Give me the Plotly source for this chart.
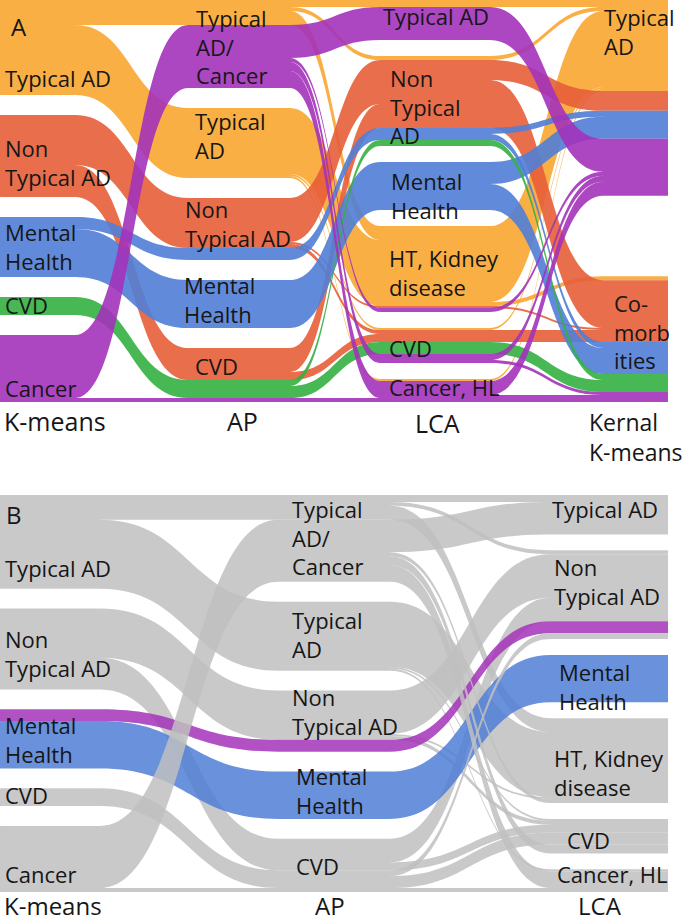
import plotly.graph_objects as go

FIG_W, FIG_H = 685, 921

# cluster names on each axis (top to bottom)
km_clusters = ["Typical AD", "Non Typical AD", "Mental Health", "CVD", "Cancer"]
ap_clusters = ["Typical AD/Cancer", "Typical AD", "Non Typical AD", "Mental Health", "CVD"]
lca_clusters = ["Typical AD", "Non Typical AD", "Mental Health", "HT, Kidney disease", "CVD", "Cancer, HL"]
kk_clusters = ["Typical AD", "Co-morbidities"]

# patient paths through the four clusterings (indices into the lists above) and their size
path_km = [0, 0, 0, 0, 0, 0, 0,
           1, 1, 1, 1, 1, 1, 1,
           2, 2, 2, 2,
           3, 3,
           4, 4, 4, 4, 4, 4, 4]
path_ap = [0, 0, 0, 1, 1, 1, 1,
           2, 2, 2, 2, 4, 4, 4,
           2, 2, 3, 3,
           4, 4,
           0, 0, 0, 0, 0, 0, 4]
path_lca = [0, 3, 1, 3, 3, 4, 5,
            1, 1, 4, 3, 1, 1, 4,
            1, 1, 2, 2,
            1, 4,
            0, 3, 4, 4, 5, 5, 5]
path_kk = [0, 0, 0, 0, 1, 0, 0,
           1, 0, 1, 1, 1, 0, 1,
           0, 1, 0, 1,
           1, 1,
           0, 0, 0, 1, 0, 1, 1]
path_n = [7, 14, 4, 62, 4, 2, 2,
          30, 14, 4, 2, 18, 6, 8,
          6, 6, 22, 26,
          6, 12,
          33, 4, 6, 3, 14, 3, 4]

COLORS = {
    "orange": (248, 166, 48),
    "red": (230, 94, 56),
    "blue": (80, 126, 214),
    "green": (52, 176, 66),
    "purple": (163, 50, 186),
    "grey": (192, 192, 192),
}
km_color = ["orange", "red", "blue", "green", "purple"]


def rgba(name, a):
    r, g, b = COLORS[name]
    return f"rgba({r},{g},{b},{a})"


def alluvial(axes, group_of, group_rank, alpha, edges, domain_y):
    """Build a sankey whose nodes are thin bars at both edges of every stratum."""
    n_axes = len(axes)
    total = sum(path_n)
    span = total * 1.25
    width = edges[-1][1]

    sub = {}
    for p, n in enumerate(path_n):
        g = group_of(p)
        for a in range(n_axes):
            key = (a, axes[a][p], path_km[p], g)
            sub[key] = sub.get(key, 0) + n

    node_x, node_y, node_c = [], [], []
    left, right = {}, {}
    for a in range(n_axes):
        keys = [k for k in sub if k[0] == a]
        n_strata = max(axes[a]) + 1
        gap = (span - total) / (n_strata - 1)
        y = 0.0
        for s in range(n_strata):
            ks = sorted([k for k in keys if k[1] == s], key=lambda k: (k[2], group_rank[k[3]]))
            for k in ks:
                yc = (y + sub[k] / 2) / span
                for side, store in ((0, left), (1, right)):
                    store[k] = len(node_x)
                    xe = edges[a][0] + 0.5 if side == 0 else edges[a][1] - 0.5
                    node_x.append(xe / width)
                    node_y.append(yc)
                    node_c.append(rgba(k[3], alpha))
                y += sub[k]
            y += gap

    src, tgt, val, lcol = [], [], [], []
    flows = {}
    for p, n in enumerate(path_n):
        g = group_of(p)
        for a in range(n_axes - 1):
            k1 = (a, axes[a][p], path_km[p], g)
            k2 = (a + 1, axes[a + 1][p], path_km[p], g)
            flows[(k1, k2)] = flows.get((k1, k2), 0) + n
    for (k1, k2), v in flows.items():
        src.append(right[k1]); tgt.append(left[k2]); val.append(v); lcol.append(rgba(k1[3], alpha))
    for k, v in sub.items():
        src.append(left[k]); tgt.append(right[k]); val.append(v); lcol.append(rgba(k[3], alpha))

    # invisible spacer so that the strata plus gaps fill the panel height
    d0 = len(node_x)
    node_x += [0.3, 0.6]; node_y += [0.5, 0.5]; node_c += ["rgba(0,0,0,0)"] * 2
    src.append(d0); tgt.append(d0 + 1); val.append(span - total); lcol.append("rgba(0,0,0,0)")

    return go.Sankey(
        arrangement="fixed",
        domain=dict(x=[0, width / FIG_W], y=domain_y),
        node=dict(x=node_x, y=node_y, color=node_c, pad=0, thickness=1,
                  line=dict(width=0), label=[""] * len(node_x), hoverinfo="none"),
        link=dict(source=src, target=tgt, value=val, color=lcol,
                  hovercolor=lcol, hoverinfo="none"),
        hoverinfo="none",
    )


# panel A: coloured by K-means cluster
sankey_a = alluvial(
    [path_km, path_ap, path_lca, path_kk],
    lambda p: km_color[path_km[p]],
    {c: i for i, c in enumerate(km_color)},
    0.9,
    [(0, 75), (188, 290), (380, 490), (603, 668)],
    [1 - 402 / FIG_H, 1],
)


# panel B: two Mental Health paths highlighted
def b_group(p):
    trio = (path_km[p], path_ap[p], path_lca[p])
    if trio == (2, 2, 1):
        return "purple"
    if trio == (2, 3, 2):
        return "blue"
    return "grey"


sankey_b = alluvial(
    [path_km, path_ap, path_lca],
    b_group,
    {"purple": 0, "blue": 1, "grey": 2},
    0.85,
    [(0, 100), (278, 390), (550, 668)],
    [1 - 892 / FIG_H, 1 - 495 / FIG_H],
)

fig = go.Figure([sankey_a, sankey_b])

labels = [
    # panel A
    ("A", 10, 26, 24, "left"),
    ("Typical AD", 4, 78, 22, "left"),
    ("Non<br>Typical AD", 4, 163, 22, "left"),
    ("Mental<br>Health", 4, 246, 22, "left"),
    ("CVD", 4, 305, 22, "left"),
    ("Cancer", 4, 388, 22, "left"),
    ("Typical<br>AD/<br>Cancer", 195, 46, 22, "left"),
    ("Typical<br>AD", 194, 135, 22, "left"),
    ("Non<br>Typical AD", 184, 223, 22, "left"),
    ("Mental<br>Health", 183, 300, 22, "left"),
    ("CVD", 194, 366, 22, "left"),
    ("Typical AD", 382, 16, 22, "left"),
    ("Non<br>Typical<br>AD", 389, 106, 22, "left"),
    ("Mental<br>Health", 390, 196, 22, "left"),
    ("HT, Kidney<br>disease", 388, 272, 22, "left"),
    ("CVD", 388, 348, 22, "left"),
    ("Cancer, HL", 388, 387, 22, "left"),
    ("Typical<br>AD", 603, 31, 22, "left"),
    ("Co-<br>morb<br>ities", 613, 332, 22, "left"),
    ("K-means", 3, 421, 25, "left"),
    ("AP", 243, 421, 25, "center"),
    ("LCA", 437, 423, 25, "center"),
    ("Kernal<br>K-means", 588, 437, 23, "left"),
    # panel B
    ("B", 5, 514, 24, "left"),
    ("Typical AD", 4, 568, 22, "left"),
    ("Non<br>Typical AD", 4, 653, 22, "left"),
    ("Mental<br>Health", 4, 739, 22, "left"),
    ("CVD", 4, 795, 22, "left"),
    ("Cancer", 4, 874, 22, "left"),
    ("Typical<br>AD/<br>Cancer", 291, 537, 22, "left"),
    ("Typical<br>AD", 291, 634, 22, "left"),
    ("Non<br>Typical AD", 291, 711, 22, "left"),
    ("Mental<br>Health", 295, 790, 22, "left"),
    ("CVD", 295, 866, 22, "left"),
    ("Typical AD", 551, 509, 22, "left"),
    ("Non<br>Typical AD", 553, 581, 22, "left"),
    ("Mental<br>Health", 558, 686, 22, "left"),
    ("HT, Kidney<br>disease", 553, 772, 22, "left"),
    ("CVD", 566, 840, 22, "left"),
    ("Cancer, HL", 556, 874, 22, "left"),
    ("K-means", 3, 905, 24, "left"),
    ("AP", 330, 905, 24, "center"),
    ("LCA", 600, 905, 24, "center"),
]

fig.update_layout(
    annotations=[
        dict(text=t, x=x / FIG_W, y=1 - y / FIG_H, xref="paper", yref="paper",
             xanchor=anchor, yanchor="middle", align=anchor, showarrow=False, borderpad=0,
             font=dict(size=size, color="#161616", family="Open Sans"))
        for t, x, y, size, anchor in labels
    ],
    width=FIG_W,
    height=FIG_H,
    margin=dict(l=0, r=0, t=0, b=0),
    paper_bgcolor="white",
    font=dict(family="Open Sans"),
    hovermode=False,
)

# the page body has a default margin; drop it so the figure fills the window
fig.write_html("out.html", config={"displayModeBar": False, "staticPlot": True},
               post_script="document.body.style.margin = '0';")
